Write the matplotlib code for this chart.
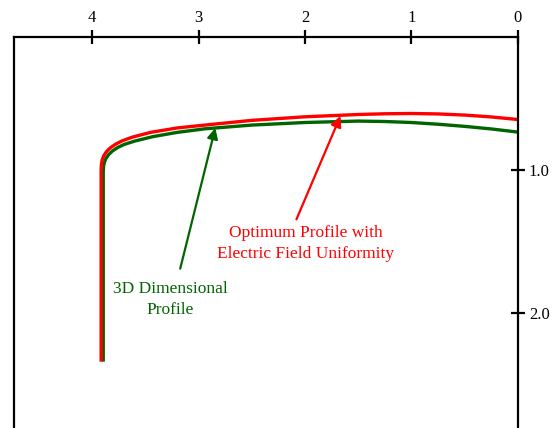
import matplotlib.pyplot as plt

plt.rcParams["font.family"] = ["Liberation Serif", "DejaVu Serif"]

# Optimum profile with electric field uniformity (red)
opt_x = [3.915, 3.915, 3.912, 3.905, 3.89, 3.865, 3.83, 3.78, 3.72, 3.62,
         3.45, 3.2, 2.94, 2.5, 2.0, 1.5, 1.25, 1.0, 0.75, 0.5, 0.25, 0.0]
opt_y = [2.34, 1.0, 0.96, 0.93, 0.9, 0.872, 0.846, 0.82, 0.797, 0.77,
         0.737, 0.706, 0.686, 0.653, 0.628, 0.612, 0.607, 0.605, 0.608,
         0.616, 0.629, 0.647]

# 3D dimensional profile (green)
dim_x = [3.895, 3.895, 3.892, 3.885, 3.87, 3.845, 3.81, 3.76, 3.7, 3.6,
         3.43, 3.2, 2.94, 2.5, 2.0, 1.5, 1.25, 1.0, 0.75, 0.5, 0.25, 0.0]
dim_y = [2.34, 1.01, 0.975, 0.948, 0.92, 0.893, 0.868, 0.843, 0.822, 0.798,
         0.767, 0.737, 0.712, 0.686, 0.668, 0.658, 0.661, 0.668, 0.68,
         0.695, 0.713, 0.735]

x_ticks = [4, 3, 2, 1, 0]
y_ticks = [1.0, 2.0]

fig = plt.figure(figsize=(5.58, 4.28), dpi=100)
ax = fig.add_axes([0.025, 0.0, 0.903, 0.9136])

ax.plot(dim_x, dim_y, color="#006400", lw=2.4, solid_capstyle="butt", solid_joinstyle="round")
ax.plot(opt_x, opt_y, color="#ff0000", lw=2.4, solid_capstyle="butt", solid_joinstyle="round")

ax.set_xlim(4.734, 0)
ax.set_ylim(2.804, 0.07)

ax.xaxis.tick_top()
ax.yaxis.tick_right()
ax.set_xticks(x_ticks)
ax.set_xticklabels([str(v) for v in x_ticks])
ax.set_yticks(y_ticks)
ax.set_yticklabels(["%.1f" % v for v in y_ticks])
ax.tick_params(axis="both", direction="inout", length=10, width=1.6,
               labelsize=12, pad=3)
ax.spines["bottom"].set_visible(False)
for s in ["top", "left", "right"]:
    ax.spines[s].set_linewidth(1.6)

# labels with arrows
ax.text(3.266, 1.905, "3D Dimensional\nProfile", color="#006400", fontsize=12.5,
        ha="center", va="center", linespacing=1.4)
ax.annotate("", xy=(2.842, 0.706), xytext=(3.172, 1.69),
            arrowprops=dict(arrowstyle="-|>", color="#006400", lw=1.6,
                            mutation_scale=16, shrinkA=0, shrinkB=0))

ax.text(1.995, 1.515, "Optimum Profile with\nElectric Field Uniformity", color="#ff0000",
        fontsize=12.5, ha="center", va="center", linespacing=1.4)
ax.annotate("", xy=(1.666, 0.622), xytext=(2.08, 1.345),
            arrowprops=dict(arrowstyle="-|>", color="#ff0000", lw=1.6,
                            mutation_scale=16, shrinkA=0, shrinkB=0))

fig.savefig("out.png", dpi=100)
